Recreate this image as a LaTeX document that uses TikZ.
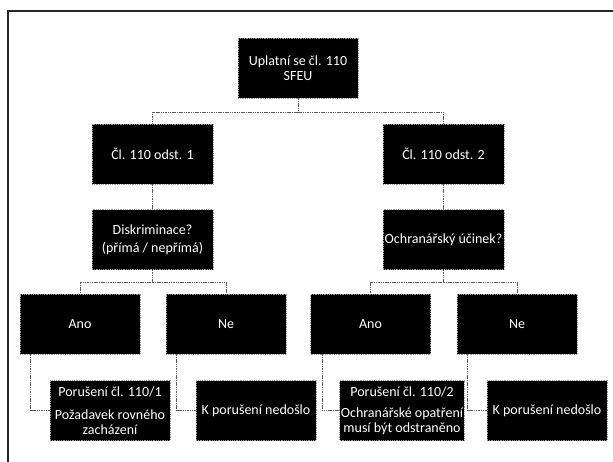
\documentclass[tikz,border=0pt]{standalone}
\usepackage{fontspec}
\setmainfont{Carlito}
\usepackage{tikz}

\begin{document}
\begin{tikzpicture}[
x=1pt, y=-1pt,
box/.style={
	rectangle,
	fill=black,
	draw=gray!80,
	densely dotted,
	line width=0.8pt,
	text=white,
	text centered,
	align=center,
	inner sep=1pt,
	minimum width=120pt,
	minimum height=60pt
},
link/.style={
	draw=gray!70!black,
	dash pattern=on 1.5pt off 0.8pt,
	line width=0.7pt
},
every node/.style={font=\fontsize{14}{15}\selectfont}
]
\useasboundingbox (0,0) rectangle (613,461);
\clip (0,0) rectangle (613,461);

% Frame
\draw [line width=2pt, black!85] (8,11) rectangle (640,490);

% Root
\node [box] (Root) at (298,68) {Uplatní se čl. 110\\SFEU};

% Articles
\node [box, minimum width=121pt] (Odst1) at (152.5,154) {Čl. 110 odst. 1};
\node [box, minimum width=121pt] (Odst2) at (443.5,154) {Čl. 110 odst. 2};

% Questions
\node [box, minimum width=121pt] (Diskr) at (152.5,239.5) {Diskriminace?\\[3pt](přímá / nepřímá)};
\node [box, minimum width=121pt] (Ochr) at (443.5,239.5) {Ochranářský účinek?};

% Answers
\node [box] (Ano1) at (80,324) {Ano};
\node [box] (Ne1) at (226,324) {Ne};
\node [box] (Ano2) at (370.5,324) {Ano};
\node [box] (Ne2) at (517,324) {Ne};

% Results
\node [box] (Por1) at (110,410.5) {Porušení čl. 110/1\\[8pt]Požadavek rovného\\zacházení};
\node [box] (Nedos1) at (256,410.5) {K porušení nedošlo};
\node [box] (Por2) at (402,410.5) {Porušení čl. 110/2\\[6pt]Ochranářské opatření\\musí být odstraněno};
\node [box] (Nedos2) at (547,410.5) {K porušení nedošlo};

% Links
\coordinate (J0) at (298,112);
\coordinate (J1) at (152.5,282);
\coordinate (J2) at (443.5,282);
\draw [link] (Root.south) -- (J0) -| (Odst1.north);
\draw [link] (J0) -| (Odst2.north);
\draw [link] (Odst1) -- (Diskr);
\draw [link] (Odst2) -- (Ochr);
\draw [link] (Diskr.south) -- (J1) -| (Ano1.north);
\draw [link] (J1) -| (Ne1.north);
\draw [link] (Ochr.south) -- (J2) -| (Ano2.north);
\draw [link] (J2) -| (Ne2.north);
\draw [link] ([xshift=11pt]Ano1.south west) |- (Por1.west);
\draw [link] ([xshift=11pt]Ne1.south west) |- (Nedos1.west);
\draw [link] ([xshift=12pt]Ano2.south west) |- (Por2.west);
\draw [link] ([xshift=11pt]Ne2.south west) |- (Nedos2.west);

\end{tikzpicture}
\end{document}
